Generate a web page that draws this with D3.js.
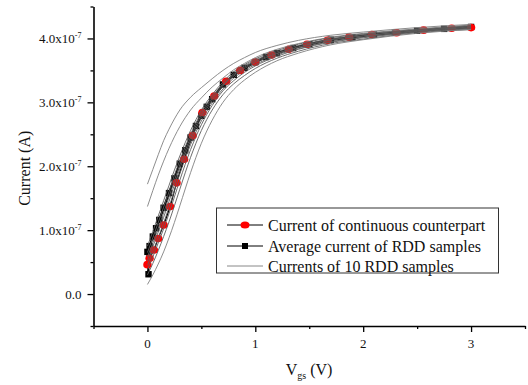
<!DOCTYPE html>
<html>
<head>
<meta charset="utf-8">
<script src="https://cdn.jsdelivr.net/npm/d3@7"></script>
<style>
  html, body { margin: 0; padding: 0; background: #fff; }
  svg { display: block; }
  text { font-family: "Liberation Serif", "Times New Roman", serif; fill: #111; }
</style>
</head>
<body>
<svg id="chart" width="528" height="385"></svg>
<script>
// ---------------- data (current in units of 1e-7 A) ----------------
const xMajorTicks = [0, 1, 2, 3];
const xMinorTicks = [-0.5, 0.5, 1.5, 2.5, 3.5];
const yMajorTicks = [0, 1, 2, 3, 4];
const yMinorTicks = [-0.5, 0.5, 1.5, 2.5, 3.5, 4.5];
const yTickBase = ["0.0", "1.0x10", "2.0x10", "3.0x10", "4.0x10"];
const yTickExp = ["", "-7", "-7", "-7", "-7"];

const legendLabels = ["Current of continuous counterpart", "Average current of RDD samples", "Currents of 10 RDD samples"];

// continuous counterpart (red circles)
const contV = [0, 0.02, 0.06, 0.10, 0.15, 0.21, 0.27, 0.34, 0.42, 0.51, 0.62, 0.73, 0.86, 1.0, 1.15, 1.31, 1.48, 1.67, 1.87, 2.08, 2.31, 2.56, 2.82, 3.0];
const contI = [0.46, 0.56, 0.69, 0.87, 1.08, 1.37, 1.74, 2.11, 2.48, 2.84, 3.10, 3.33, 3.50, 3.63, 3.74, 3.83, 3.91, 3.97, 4.02, 4.06, 4.09, 4.13, 4.16, 4.17];

// average of RDD samples (black squares)
const avgV = [0.01, 0, 0.02, 0.05, 0.08, 0.11, 0.15, 0.2, 0.25, 0.3, 0.35, 0.4, 0.45, 0.5, 0.55, 0.6, 0.7, 0.8, 0.9, 1.0, 1.1, 1.2, 1.35, 1.5, 1.7, 1.9, 2.1, 2.3, 2.5, 2.75, 3.0];
const avgI = [0.31, 0.66, 0.75, 0.90, 1.03, 1.16, 1.35, 1.58, 1.81, 2.04, 2.25, 2.45, 2.63, 2.79, 2.93, 3.05, 3.28, 3.43, 3.54, 3.63, 3.71, 3.77, 3.85, 3.91, 3.98, 4.02, 4.06, 4.09, 4.12, 4.15, 4.18];

// 10 RDD samples (thin grey)
const sampleV = [0, 0.05, 0.1, 0.15, 0.2, 0.25, 0.3, 0.4, 0.5, 0.6, 0.7, 0.8, 0.9, 1.0, 1.2, 1.4, 1.7, 2.0, 2.5, 3.0];
const sample1  = [1.72, 1.95, 2.18, 2.40, 2.58, 2.74, 2.88, 3.08, 3.23, 3.37, 3.50, 3.61, 3.70, 3.78, 3.89, 3.97, 4.05, 4.10, 4.17, 4.22];
const sample2  = [1.37, 1.62, 1.86, 2.08, 2.28, 2.46, 2.62, 2.88, 3.07, 3.24, 3.38, 3.51, 3.61, 3.70, 3.83, 3.92, 4.02, 4.08, 4.15, 4.21];
const sample3  = [0.75, 0.98, 1.22, 1.46, 1.70, 1.94, 2.16, 2.56, 2.88, 3.12, 3.32, 3.48, 3.59, 3.68, 3.81, 3.91, 4.01, 4.07, 4.14, 4.20];
const sample4  = [0.65, 0.88, 1.12, 1.36, 1.60, 1.86, 2.09, 2.50, 2.84, 3.09, 3.29, 3.45, 3.57, 3.66, 3.79, 3.89, 3.99, 4.06, 4.13, 4.19];
const sample5  = [0.58, 0.80, 1.03, 1.27, 1.52, 1.78, 2.02, 2.45, 2.80, 3.06, 3.27, 3.43, 3.55, 3.64, 3.77, 3.87, 3.98, 4.04, 4.12, 4.18];
const sample6  = [0.52, 0.74, 0.97, 1.20, 1.45, 1.71, 1.96, 2.40, 2.76, 3.03, 3.25, 3.41, 3.53, 3.62, 3.76, 3.86, 3.97, 4.04, 4.12, 4.17];
const sample7  = [0.45, 0.66, 0.88, 1.11, 1.36, 1.62, 1.88, 2.34, 2.71, 2.99, 3.21, 3.38, 3.50, 3.59, 3.74, 3.84, 3.95, 4.02, 4.11, 4.16];
const sample8  = [0.38, 0.58, 0.80, 1.02, 1.26, 1.52, 1.78, 2.26, 2.65, 2.95, 3.18, 3.34, 3.47, 3.57, 3.72, 3.83, 3.94, 4.01, 4.10, 4.15];
const sample9  = [0.30, 0.48, 0.68, 0.90, 1.13, 1.38, 1.64, 2.14, 2.56, 2.88, 3.12, 3.29, 3.42, 3.53, 3.69, 3.80, 3.92, 3.99, 4.09, 4.14];
const sample10 = [0.15, 0.30, 0.47, 0.66, 0.88, 1.12, 1.38, 1.90, 2.36, 2.72, 3.00, 3.20, 3.35, 3.47, 3.65, 3.77, 3.90, 3.98, 4.08, 4.14];
const samples = [sample1, sample2, sample3, sample4, sample5, sample6, sample7, sample8, sample9, sample10];

// ---------------- layout ----------------
const svg = d3.select("#chart");
const L = 93.5, R = 525, T = 6.5, B = 326;
const x = d3.scaleLinear().domain([-0.5, 3.5]).range([L, R]);
const y = d3.scaleLinear().domain([-0.5, 4.5]).range([B, T]);

const line = d3.line().x(d => x(d[0])).y(d => y(d[1])).curve(d3.curveMonotoneX);
const lineLin = d3.line().x(d => x(d[0])).y(d => y(d[1]));

const plot = svg.append("g");

// average curve (black line + squares)
const avgPts = avgV.map((v, i) => [v, avgI[i]]);
plot.append("path").datum(avgPts).attr("d", lineLin)
  .attr("fill", "none").attr("stroke", "#000").attr("stroke-width", 2.4);
plot.append("g").selectAll("rect").data(avgPts).join("rect")
  .attr("x", d => x(d[0]) - 3.2).attr("y", d => y(d[1]) - 3.2)
  .attr("width", 6.4).attr("height", 6.4).attr("fill", "#000");

// continuous counterpart (black line + red circles)
const contPts = contV.map((v, i) => [v, contI[i]]);
plot.append("path").datum(contPts).attr("d", line)
  .attr("fill", "none").attr("stroke", "#000").attr("stroke-width", 1.2);
plot.append("g").selectAll("ellipse").data(contPts).join("ellipse")
  .attr("cx", d => x(d[0])).attr("cy", d => y(d[1]))
  .attr("rx", 4.2).attr("ry", 3.8).attr("fill", "#ff0000");

// 10 samples thin grey on top
samples.forEach((s, k) => {
  plot.append("path").datum(sampleV.map((v, i) => [v, s[i]])).attr("d", line)
    .attr("fill", "none").attr("stroke", (k < 2 || k === 9) ? "#808080" : "#5e5e5e")
    .attr("stroke-width", 0.9);
});

// ---------------- axes ----------------
const axisColor = "#000";
svg.append("g").attr("transform", `translate(0,${B})`)
  .call(d3.axisBottom(x).tickValues(xMajorTicks).tickSize(6).tickSizeOuter(0).tickFormat(""));
svg.append("g").attr("transform", `translate(0,${B})`)
  .call(d3.axisBottom(x).tickValues(xMinorTicks).tickSize(3).tickSizeOuter(0).tickFormat(""))
  .select(".domain").remove();
svg.append("g").attr("transform", `translate(${L},0)`)
  .call(d3.axisLeft(y).tickValues(yMajorTicks).tickSize(6).tickSizeOuter(0).tickFormat(""));
svg.append("g").attr("transform", `translate(${L},0)`)
  .call(d3.axisLeft(y).tickValues(yMinorTicks).tickSize(3).tickSizeOuter(0).tickFormat(""))
  .select(".domain").remove();
svg.selectAll(".domain").attr("stroke", axisColor).attr("stroke-width", 1.6);
svg.selectAll(".tick line").attr("stroke", axisColor).attr("stroke-width", 1.3);

// x tick labels
svg.append("g").selectAll("text").data(xMajorTicks).join("text")
  .attr("x", d => x(d)).attr("y", B + 22)
  .attr("text-anchor", "middle").attr("font-size", 13).text(d => d);

// y tick labels with superscripts
yMajorTicks.forEach((v, i) => {
  const t = svg.append("text").attr("x", L - 12).attr("y", y(v) + 4.5)
    .attr("text-anchor", "end").attr("font-size", 13);
  t.append("tspan").text(yTickBase[i]);
  if (yTickExp[i]) {
    t.append("tspan").attr("dy", -5).attr("font-size", 8).text(yTickExp[i]);
  }
});

// axis titles
svg.append("text").attr("transform", `translate(30,${(T + B) / 2 + 2}) rotate(-90)`)
  .attr("text-anchor", "middle").attr("font-size", 16).text("Current (A)");
const xt = svg.append("text").attr("x", 309).attr("y", 375).attr("text-anchor", "middle").attr("font-size", 16);
xt.append("tspan").text("V");
xt.append("tspan").attr("dy", 4).attr("font-size", 10).text("gs");
xt.append("tspan").attr("dy", -4).text(" (V)");

// ---------------- legend ----------------
const lg = svg.append("g");
lg.append("rect").attr("x", 216.5).attr("y", 208).attr("width", 282).attr("height", 65)
  .attr("fill", "#fff").attr("stroke", "#333").attr("stroke-width", 1);
const rowsY = [225, 246, 266];
legendLabels.forEach((lab, i) => {
  const yy = rowsY[i];
  lg.append("line").attr("x1", 227).attr("x2", 263).attr("y1", yy).attr("y2", yy)
    .attr("stroke", i === 2 ? "#7a7a7a" : "#000").attr("stroke-width", i === 2 ? 0.9 : 1);
  if (i === 0) lg.append("ellipse").attr("cx", 245).attr("cy", yy).attr("rx", 4.5).attr("ry", 3.5).attr("fill", "#ff0000");
  if (i === 1) lg.append("rect").attr("x", 242).attr("y", yy - 3).attr("width", 6).attr("height", 6).attr("fill", "#000");
  lg.append("text").attr("x", 268).attr("y", yy + 5.5).attr("font-size", 16).text(lab);
});
</script>
</body>
</html>
